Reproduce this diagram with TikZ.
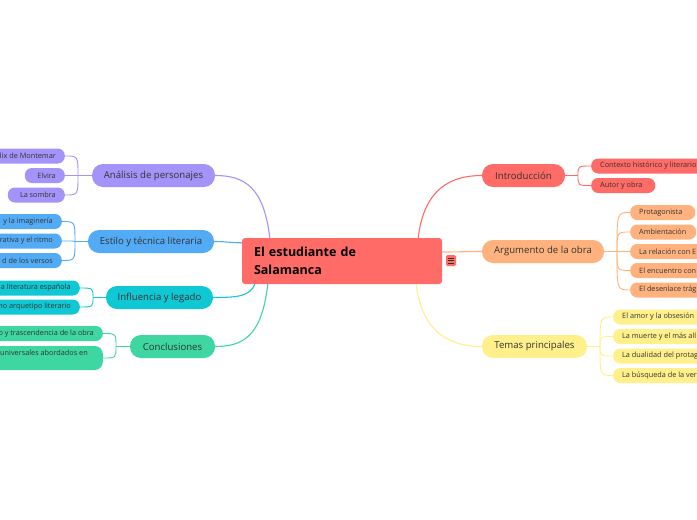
\documentclass[tikz,border=0pt]{standalone}
\usepackage{fontspec}
\setmainfont{Open Sans}
\definecolor{cred}{HTML}{FF6B66}
\definecolor{corange}{HTML}{FFB27E}
\definecolor{cyellow}{HTML}{FFF08C}
\definecolor{cpurple}{HTML}{A493F8}
\definecolor{cblue}{HTML}{53AAF5}
\definecolor{cteal}{HTML}{10C8D4}
\definecolor{cgreen}{HTML}{3ED6A1}
\definecolor{ctext}{HTML}{333333}
\newcommand\lft[2]{\makebox[#1][l]{#2}}
\newcommand\rgt[2]{\makebox[#1][r]{#2}}
\begin{document}
\begin{tikzpicture}[x=1pt,y=-1pt,
  central/.style={rounded corners=3pt, fill=cred, minimum width=200pt, minimum height=46pt,
    text width=176pt, align=left, inner xsep=12pt, font=\bfseries\fontsize{12.5}{18}\selectfont, text=black},
  branch/.style={rounded corners=11pt, minimum height=23pt, inner sep=0pt,
    font=\fontsize{9.6}{11}\selectfont, text=ctext},
  leaf/.style={rounded corners=7pt, minimum height=15pt, inner xsep=9pt, inner ysep=0pt,
    font=\fontsize{7.3}{8.5}\selectfont, text=ctext},
  link/.style={draw=#1, line width=1.1pt},
  sublink/.style={draw=#1, line width=0.9pt}]
\useasboundingbox (0,0) rectangle (697,520);
\clip (0,0) rectangle (697,520);

% central
\node[central] (c) at (342,261) {El estudiante de\\Salamanca};
\node[rounded corners=1.5pt, fill=cred, minimum width=10pt, minimum height=11pt, inner sep=0pt] (menu) at (451,260.5) {};
\draw[ctext, line width=0.7pt] ([xshift=-2.8pt,yshift=2.5pt]menu.center) -- ([xshift=2.8pt,yshift=2.5pt]menu.center)
  ([xshift=-2.8pt]menu.center) -- ([xshift=2.8pt]menu.center)
  ([xshift=-2.8pt,yshift=-2.5pt]menu.center) -- ([xshift=2.8pt,yshift=-2.5pt]menu.center);

% right branches
\node[branch, fill=cred, minimum width=83pt] (intro) at (523.5,175.5) {Introducción};
\node[branch, fill=corange, minimum width=122pt] (arg) at (543,251.5) {Argumento de la obra};
\node[branch, fill=cyellow, minimum width=105pt] (temas) at (534.5,346.5) {Temas principales};

% left branches
\node[branch, fill=cpurple, minimum width=123pt] (ana) at (153.5,175.5) {Análisis de personajes};
\node[branch, fill=cblue, minimum width=126pt] (est) at (151,241.5) {Estilo y técnica literaria};
\node[branch, fill=cteal, minimum width=107pt] (inf) at (159.5,297.5) {Influencia y legado};
\node[branch, fill=cgreen, minimum width=85pt] (con) at (172.5,346.5) {Conclusiones};

% central links
\draw[link=cred] ([xshift=-24pt]c.north east) .. controls +(6,-50) and +(-30,0) .. (intro.west);
\draw[link=corange] ([yshift=9pt]c.east) .. controls +(15,0) and +(-15,0) .. (arg.west);
\draw[link=cyellow] ([xshift=-26pt]c.south east) .. controls +(6,50) and +(-30,0) .. (temas.west);
\draw[link=cpurple] ([xshift=28pt]c.north west) .. controls +(-6,-50) and +(30,0) .. (ana.east);
\draw[link=cblue] ([yshift=-5pt]c.north west) .. controls +(-12,0) and +(12,0) .. (est.east);
\draw[link=cteal] ([xshift=13pt]c.south west) .. controls +(-5,12) and +(25,0) .. (inf.east);
\draw[link=cgreen] ([xshift=26pt]c.south west) .. controls +(-6,50) and +(30,0) .. (con.east);

% right leaves
\node[leaf, fill=cred, anchor=west] (i1) at (591,166) {\lft{100pt}{Contexto histórico y literario}};
\node[leaf, fill=cred, anchor=west] (i2) at (591,185.5) {\lft{46pt}{Autor y obra}};

\node[leaf, fill=corange, anchor=west] (a1) at (630,212.5) {\lft{47pt}{Protagonista}};
\node[leaf, fill=corange, anchor=west] (a2) at (630,232) {\lft{48pt}{Ambientación}};
\node[leaf, fill=corange, anchor=west] (a3) at (630,251.5) {\lft{70pt}{La relación con E}};
\node[leaf, fill=corange, anchor=west] (a4) at (630,270.5) {\lft{70pt}{El encuentro con}};
\node[leaf, fill=corange, anchor=west] (a5) at (630,290) {\lft{70pt}{El desenlace trág}};

\node[leaf, fill=cyellow, anchor=west] (t1) at (613,317) {\lft{90pt}{El amor y la obsesión}};
\node[leaf, fill=cyellow, anchor=west] (t2) at (613,336.5) {\lft{90pt}{La muerte y el más all}};
\node[leaf, fill=cyellow, anchor=west] (t3) at (613,356) {\lft{90pt}{La dualidad del protag}};
\node[leaf, fill=cyellow, anchor=west] (t4) at (613,375.5) {\lft{90pt}{La búsqueda de la ver}};

% left leaves
\node[leaf, fill=cpurple, anchor=east] (p1) at (65,156) {\rgt{90pt}{lix de Montemar}};
\node[leaf, fill=cpurple, anchor=east] (p2) at (65,175.5) {\rgt{22pt}{Elvira}};
\node[leaf, fill=cpurple, anchor=east] (p3) at (65,195) {\rgt{39pt}{La sombra}};

\node[leaf, fill=cblue, anchor=east] (e1) at (62,221.5) {\rgt{90pt}{y la imaginería}};
\node[leaf, fill=cblue, anchor=east] (e2) at (62,241) {\rgt{90pt}{rativa y el ritmo}};
\node[leaf, fill=cblue, anchor=east] (e3) at (62,260.5) {\rgt{90pt}{d de los versos}};

\node[leaf, fill=cteal, anchor=east] (n1) at (80,288) {\rgt{100pt}{a literatura española}};
\node[leaf, fill=cteal, anchor=east] (n2) at (80,307) {\rgt{100pt}{no arquetipo literario}};

\node[leaf, fill=cgreen, anchor=east] (k1) at (103,333.5) {\rgt{120pt}{o y trascendencia de la obra}};
\node[leaf, fill=cgreen, anchor=east, minimum height=24pt, rounded corners=8pt] (k2) at (103,358)
  {\begin{tabular}{@{}r@{}}\rgt{120pt}{universales abordados en\hspace*{6pt}}\\[0pt]\mbox{}\end{tabular}};

% forks
\coordinate (fi) at (578,175.5);
\coordinate (fa) at (617,251.5);
\coordinate (ft) at (600,346.5);
\coordinate (fp) at (78,175.5);
\coordinate (fe) at (75,241.5);
\coordinate (fn) at (93,297.5);
\coordinate (fk) at (116,346.5);

\draw[sublink=cred] (intro.east) -- (fi);
\foreach \n in {i1,i2} \draw[sublink=cred] (fi) .. controls (fi |- \n.west) .. (\n.west);
\draw[sublink=corange] (arg.east) -- (fa);
\foreach \n in {a1,a2,a3,a4,a5} \draw[sublink=corange] (fa) .. controls (fa |- \n.west) .. (\n.west);
\draw[sublink=cyellow] (temas.east) -- (ft);
\foreach \n in {t1,t2,t3,t4} \draw[sublink=cyellow] (ft) .. controls (ft |- \n.west) .. (\n.west);

\draw[sublink=cpurple] (ana.west) -- (fp);
\foreach \n in {p1,p2,p3} \draw[sublink=cpurple] (fp) .. controls (fp |- \n.east) .. (\n.east);
\draw[sublink=cblue] (est.west) -- (fe);
\foreach \n in {e1,e2,e3} \draw[sublink=cblue] (fe) .. controls (fe |- \n.east) .. (\n.east);
\draw[sublink=cteal] (inf.west) -- (fn);
\foreach \n in {n1,n2} \draw[sublink=cteal] (fn) .. controls (fn |- \n.east) .. (\n.east);
\draw[sublink=cgreen] (con.west) -- (fk);
\foreach \n in {k1,k2} \draw[sublink=cgreen] (fk) .. controls (fk |- \n.east) .. (\n.east);
\end{tikzpicture}
\end{document}
